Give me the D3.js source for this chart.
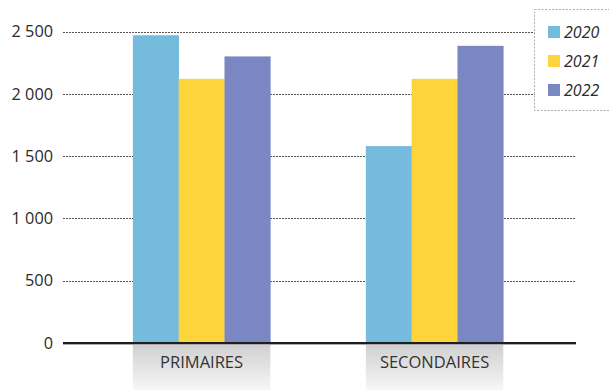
<!DOCTYPE html>
<html>
<head>
<meta charset="utf-8">
<script src="https://cdn.jsdelivr.net/npm/d3@7"></script>
<style>
  html, body { margin: 0; padding: 0; background: #fff; }
  svg { display: block; font-family: "Open Sans", "Noto Sans", sans-serif; }
</style>
</head>
<body>
<svg id="chart" width="609" height="390"></svg>
<script>
const categories = ["PRIMAIRES", "SECONDAIRES"];
const years = ["2020", "2021", "2022"];
const values2020 = [2470, 1580];
const values2021 = [2120, 2120];
const values2022 = [2300, 2385];
const yTicks = [0, 500, 1000, 1500, 2000, 2500];
const tickLabels = ["0", "500", "1 000", "1 500", "2 000", "2 500"];
const colors = ["#75bbdd", "#fdd43c", "#7a87c2"];

const seriesValues = [values2020, values2021, values2022];

(function () {
const svg = d3.select("#chart");
const W = 609, H = 390;
const mLeft = 63, mRight = 576, mTop = 31.5, mBottom = 343;

const x = d3.scaleBand().domain(categories).range([mLeft, mRight])
  .paddingInner(0.41).paddingOuter(0.306).align(0.49);
const xs = d3.scaleBand().domain(years).range([0, x.bandwidth()]).padding(0);
const y = d3.scaleLinear().domain([0, 2500]).range([mBottom, mTop]);

const defs = svg.append("defs");
const grad = defs.append("linearGradient").attr("id", "lblgrad")
  .attr("x1", 0).attr("y1", 0).attr("x2", 0).attr("y2", 1);
grad.append("stop").attr("offset", "0%").attr("stop-color", "#cfcfd1");
grad.append("stop").attr("offset", "100%").attr("stop-color", "#f7f7f7");

// label background boxes
svg.append("g").selectAll("rect").data(categories).join("rect")
  .attr("x", d => x(d)).attr("y", mBottom + 1)
  .attr("width", x.bandwidth()).attr("height", H - mBottom - 1)
  .attr("fill", "url(#lblgrad)");

// gridlines
svg.append("g").selectAll("line").data(yTicks.filter(d => d > 0)).join("line")
  .attr("x1", mLeft).attr("x2", mRight)
  .attr("y1", d => Math.round(y(d)) + 0.5).attr("y2", d => Math.round(y(d)) + 0.5)
  .attr("stroke", "#555").attr("stroke-width", 1).attr("stroke-dasharray", "2,1");

// tick labels
svg.append("g").selectAll("text").data(yTicks).join("text")
  .attr("x", 53).attr("y", d => y(d))
  .attr("dy", "0.35em").attr("text-anchor", "end")
  .attr("font-size", 16.3).attr("fill", "#2b2b2b")
  .text((d, i) => tickLabels[i]);

// bars
const g = svg.append("g");
years.forEach((yr, si) => {
  g.append("g").selectAll("rect").data(categories).join("rect")
    .attr("x", c => x(c) + xs(yr))
    .attr("width", xs.bandwidth() + 0.3)
    .attr("y", (c, ci) => y(seriesValues[si][ci]))
    .attr("height", (c, ci) => mBottom - y(seriesValues[si][ci]))
    .attr("fill", colors[si]);
});

// baseline
svg.append("line").attr("x1", mLeft).attr("x2", mRight)
  .attr("y1", mBottom + 1.5).attr("y2", mBottom + 1.5)
  .attr("stroke", "#aaa").attr("stroke-width", 1);
svg.append("line").attr("x1", mLeft).attr("x2", mRight)
  .attr("y1", mBottom).attr("y2", mBottom)
  .attr("stroke", "#1e1e1e").attr("stroke-width", 2.2);

// category labels
svg.append("g").selectAll("text").data(categories).join("text")
  .attr("x", d => x(d) + x.bandwidth() / 2).attr("y", 368)
  .attr("text-anchor", "middle").attr("font-size", 16.5).attr("fill", "#333")
  .text(d => d);

// legend
const lg = svg.append("g");
lg.append("rect").attr("x", 534.5).attr("y", 9.5).attr("width", 90).attr("height", 101)
  .attr("fill", "#fff").attr("stroke", "#b0b0b0").attr("stroke-width", 1)
  .attr("stroke-dasharray", "2,1.5");
years.forEach((yr, i) => {
  const cy = 32 + i * 29;
  lg.append("rect").attr("x", 548).attr("y", cy - 6).attr("width", 12).attr("height", 12)
    .attr("fill", colors[i]);
  lg.append("text").attr("x", 564).attr("y", cy).attr("dy", "0.36em")
    .attr("font-size", 16).attr("font-style", "italic").attr("fill", "#2b2b2b")
    .text(yr);
});
})();
</script>
</body>
</html>
